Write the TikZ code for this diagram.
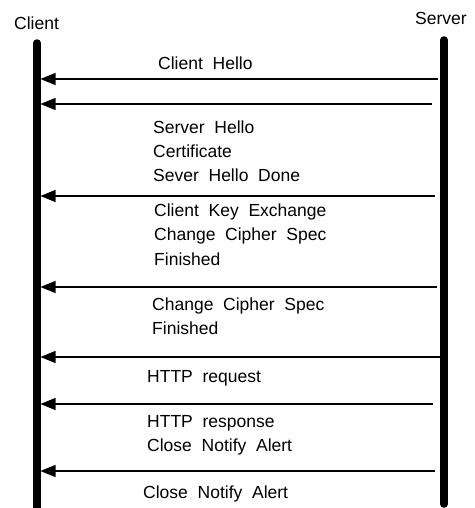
\documentclass[tikz,border=0pt]{standalone}
\usepackage{fontspec}
\setmainfont[WordSpace=2]{Liberation Sans}
\usetikzlibrary{arrows.meta}
\begin{document}
\begin{tikzpicture}[x=1pt,y=-1pt,
  lifeline/.style={line width=7.5pt,line cap=round},
  msg/.style={line width=1.1pt,-{Triangle[length=15pt,width=12pt]}},
  party/.style={font=\fontsize{17.5}{20}\selectfont,inner sep=0pt,anchor=base west},
  lbl/.style={font=\fontsize{17.5}{20}\selectfont,inner sep=0pt,anchor=base west}]
\useasboundingbox (0,0) rectangle (474,508);

% the two parties
\node[party] (client) at (14,30) {Client};
\node[party] (server) at (415,25) {Server};

% lifelines
\coordinate (ctop) at (37,43);
\coordinate (cbot) at (37,515);
\coordinate (stop) at (444,40);
\coordinate (sbot) at (444,504);
\draw[lifeline] (ctop) -- (cbot);
\draw[lifeline] (stop) -- (sbot);

% message arrows
\foreach \i/\y/\xr in {1/79/438, 2/104/432, 3/196/435, 4/287/437, 5/357/440, 6/404/433, 7/471/435}{
  \coordinate (s\i) at (\xr,\y);
  \coordinate (c\i) at (40.5,\y);
  \draw[msg] (s\i) -- (c\i);
}

% message labels
\node[lbl] (m1)  at (158,70)    {Client Hello};
\node[lbl] (m2a) at (153,133)   {Server Hello};
\node[lbl] (m2b) at (153,157)   {Certificate};
\node[lbl] (m2c) at (153,181.5) {Sever Hello Done};
\node[lbl] (m3a) at (154,216.5) {Client Key Exchange};
\node[lbl] (m3b) at (154,240.5) {Change Cipher Spec};
\node[lbl] (m3c) at (154,265)   {Finished};
\node[lbl] (m4a) at (152,310)   {Change Cipher Spec};
\node[lbl] (m4b) at (152,334)   {Finished};
\node[lbl] (m5)  at (147,382.5) {HTTP request};
\node[lbl] (m6a) at (147,427.5) {HTTP response};
\node[lbl] (m6b) at (147,451.5) {Close Notify Alert};
\node[lbl] (m7)  at (143,498)   {Close Notify Alert};
\end{tikzpicture}
\end{document}
